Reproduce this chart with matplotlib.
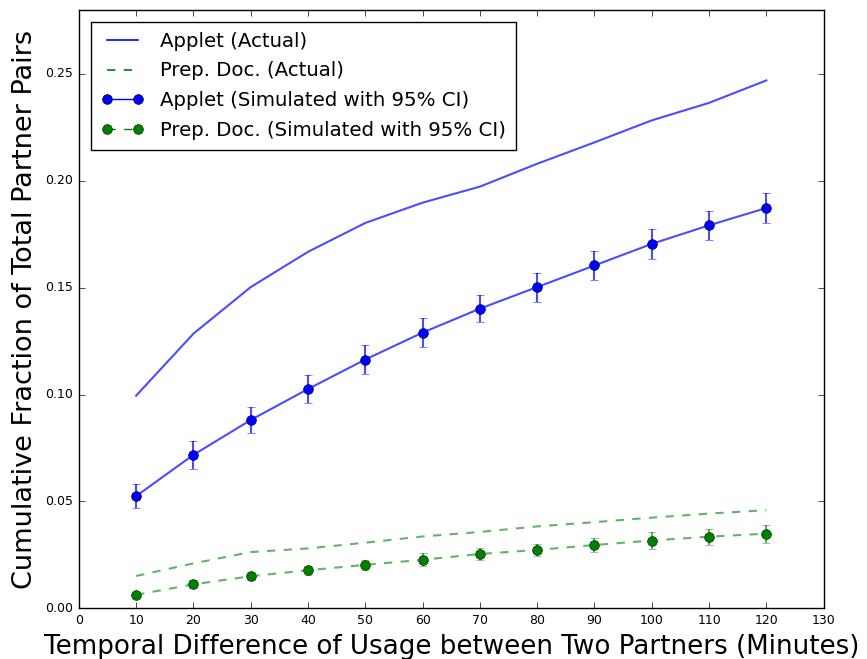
import numpy as np
import matplotlib
matplotlib.use("Agg")
import matplotlib.pyplot as plt
from matplotlib.lines import Line2D

plt.style.use("classic")

minutes = [10, 20, 30, 40, 50, 60, 70, 80, 90, 100, 110, 120]

applet_actual = [0.0995, 0.1285, 0.1503, 0.1668, 0.1803, 0.1898, 0.1973,
                 0.2080, 0.2180, 0.2283, 0.2365, 0.2470]
prep_actual = [0.0151, 0.0210, 0.0263, 0.0280, 0.0307, 0.0336, 0.0357,
               0.0383, 0.0403, 0.0424, 0.0443, 0.0459]

applet_sim = [0.0525, 0.0718, 0.0881, 0.1026, 0.1164, 0.1290, 0.1402,
              0.1503, 0.1604, 0.1705, 0.1792, 0.1873]
applet_ci = [0.0057, 0.0066, 0.0063, 0.0067, 0.0068, 0.0068, 0.0063,
             0.0068, 0.0068, 0.0070, 0.0068, 0.0068]
prep_sim = [0.0063, 0.0112, 0.0150, 0.0178, 0.0203, 0.0227, 0.0254,
            0.0273, 0.0296, 0.0317, 0.0335, 0.0349]
prep_ci = [0.0012, 0.0018, 0.0020, 0.0022, 0.0024, 0.0031, 0.0030,
           0.0027, 0.0035, 0.0038, 0.0038, 0.0042]

fig = plt.figure(figsize=(8.67, 6.59), dpi=100, facecolor="white")
ax = fig.add_axes([0.091, 0.077, 0.859, 0.908])

# actual curves
ax.plot(minutes, applet_actual, "-", color="b", alpha=0.7, lw=1.5)
ax.plot(minutes, prep_actual, "--", color="g", alpha=0.6, lw=1.5)

# simulated curves: faded line + CI bars, solid markers on top
ax.errorbar(minutes, applet_sim, yerr=applet_ci, fmt="-", color="b",
            alpha=0.7, elinewidth=1.5, capsize=3, lw=1.5)
ax.errorbar(minutes, prep_sim, yerr=prep_ci, fmt="--", color="g",
            alpha=0.6, elinewidth=1.5, capsize=3, lw=1.5)
ax.plot(minutes, applet_sim, "o", color="b", markersize=7, mec="#000044")
ax.plot(minutes, prep_sim, "o", color="g", markersize=7, mec="#003300")

ax.set_xlim(0, 130)
ax.set_ylim(0, 0.28)
ax.set_xticks(np.arange(0, 131, 10))
ax.set_yticks(np.arange(0, 0.26, 0.05))
ax.tick_params(labelsize=9)

ax.set_xlabel("Temporal Difference of Usage between Two Partners (Minutes)",
              fontsize=18.8)
ax.set_ylabel("Cumulative Fraction of Total Partner Pairs", fontsize=19.5)

handles = [
    Line2D([], [], ls="-", color="b", lw=1.2),
    Line2D([], [], ls="--", color="g", lw=1.2),
    Line2D([], [], ls="-", color="b", marker="o", markersize=7, mec="#000044"),
    Line2D([], [], ls="--", color="g", marker="o", markersize=7, mec="#003300"),
]
labels = ["Applet (Actual)", "Prep. Doc. (Actual)",
          "Applet (Simulated with 95% CI)",
          "Prep. Doc. (Simulated with 95% CI)"]
ax.legend(handles, labels, loc="upper left", fontsize=14.2, numpoints=2,
          handlelength=2.2, borderaxespad=0.6, labelspacing=0.55,
          borderpad=0.5)

fig.savefig("out.png", dpi=100, facecolor="white")
